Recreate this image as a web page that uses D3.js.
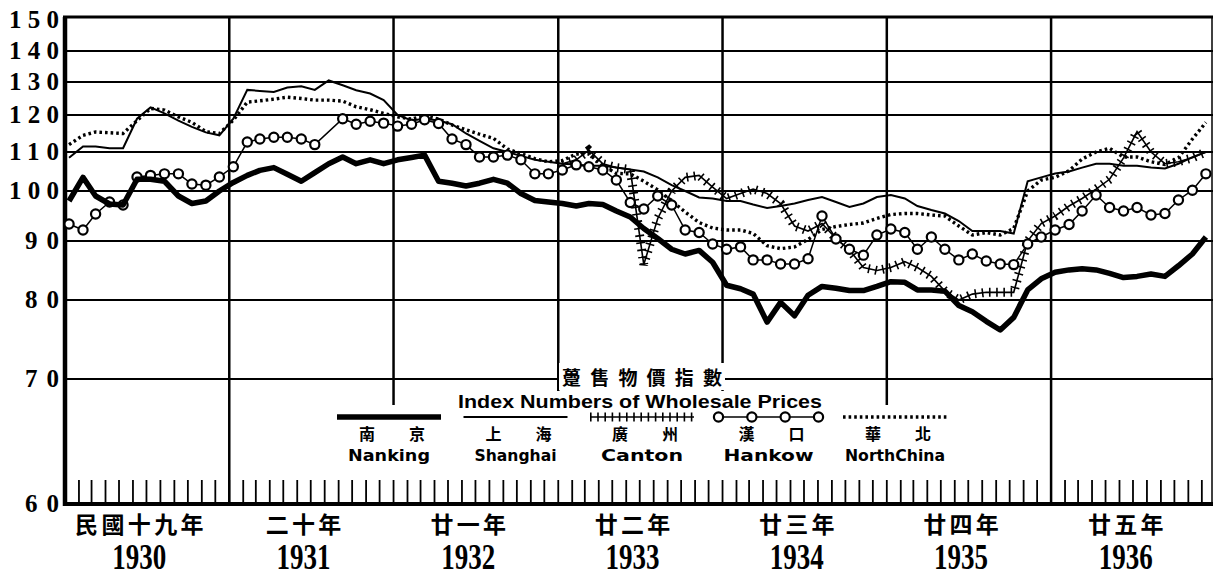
<!DOCTYPE html>
<html>
<head>
<meta charset="utf-8">
<script src="https://cdn.jsdelivr.net/npm/d3@7"></script>
<style>
  html, body { margin: 0; padding: 0; background: #fff; }
  svg { display: block; }
</style>
</head>
<body>
<svg id="chart" width="1213" height="576"></svg>
<script>
// ---- data (monthly, Jan 1930 - Dec 1936) ----
const yearsCn = ["民國十九年", "二十年", "廿一年", "廿二年", "廿三年", "廿四年", "廿五年"];
const years = [1930, 1931, 1932, 1933, 1934, 1935, 1936];
const yTicks = [60, 70, 80, 90, 100, 110, 120, 130, 140, 150];

const nanking = [
  98, 103.5, 99, 97.4, 97.2, 103, 103, 102.5, 99, 97.5, 98, 100,
  102.2, 104, 105.3, 106, 104.3, 102.5, 104.7, 107, 108.7, 107, 108, 107,
  108, 108.6, 109.2, 102.5, 102, 101.3, 102, 103, 102, 99.5, 98.1, 97.8,
  97.5, 97, 97.5, 97.3, 96, 94.8, 92.5, 90.5, 88.6, 87.8, 88.4, 86.4,
  82.5, 81.9, 81, 77.2, 79.7, 78, 80.8, 82.3, 82, 81.6, 81.6, 82.3,
  83.1, 83, 81.7, 81.7, 81.5, 79.3, 78.5, 77.3, 76.2, 77.8, 81.7, 83.6,
  84.7, 85.1, 85.3, 85.1, 84.5, 83.8, 84, 84.4, 84, 85.8, 87.8, 90.8
];
const shanghai = [
  108.5, 111.5, 111.5, 111, 111, 119, 122.3, 120.5, 118.5, 116.8, 115.3, 114.5,
  119, 127.6, 127.3, 127, 128.3, 128.7, 127.6, 130.5, 129, 127.5, 126.5, 124.5,
  120, 118.5, 119, 118.5, 117.5, 115, 113, 111, 110, 109, 108, 107.5,
  107, 106.8, 106.5, 106.5, 106, 105.5, 105, 103.5, 101.5, 100, 98.7, 98.5,
  98, 98, 97.3, 96.6, 97, 97.5, 98.2, 98.8, 97.8, 96.8, 97.5, 98.8,
  99.2, 98.5, 97, 96.2, 95.5, 94, 92, 92, 92, 91.5, 102.5, 103.5,
  104.5, 105, 106, 107, 107, 106.5, 106.5, 106, 105.8, 107, 108.7, 110
];
const canton = [
  null, null, null, null, null, null, null, null, null, null, null, null,
  null, null, null, null, null, null, null, null, null, null, null, null,
  null, null, null, null, null, null, null, null, null, null, null, null,
  107, 108, 110.5, 107, 106, 105.5, 86, 94.5, 100, 103.5, 104, 101,
  98.5, 99.5, 100.5, 99.5, 97.5, 93, 92, 93.5, 90.5, 88.5, 85.5, 85,
  85.5, 86.5, 85.5, 84, 81.5, 80, 81, 81.3, 81.3, 81.3, 90, 93.5,
  95, 97, 98.5, 100.5, 103, 108.5, 115.5, 110, 107, 107.5, 108.5, 110
];
const hankow = [
  93.4, 92.2, 95.4, 97.8, 97.2, 103.6, 104, 104.4, 104.4, 101.8, 101.5, 103.6,
  106.2, 112.7, 113.5, 114, 114, 113.5, 112, null, 119, 117.5, 118.3, 117.8,
  117, 117.5, 118.7, 117.7, 113.5, 112, 108.7, 108.7, 109.2, 108, 104.4, 104.4,
  105.4, 106.7, 106.2, 105.4, 102.8, 97.7, 96.4, 99, 97.2, 92.2, 91.7, 89.5,
  88.6, 89, 86.8, 86.8, 86.1, 86.1, 87, 95, 90.4, 88.6, 87.6, 91.2,
  92.4, 91.7, 88.6, 90.8, 88.6, 86.8, 87.8, 86.6, 86.1, 86, 89.5, 90.8,
  92.2, 93.3, 96, 99.2, 96.7, 96, 96.7, 95.2, 95.5, 98.2, 100.2, 104.4
];
const northChina = [
  112, 114.5, 115.4, 115.2, 115, 118.5, 122, 121.5, 119.5, 118, 115.5, 115,
  118.6, 123.9, 124.3, 124.8, 125.4, 125, 124.5, 124.5, 124.2, 122.5, 121.6, 120.5,
  119.5, 118.9, 119.8, 118.9, 117.3, 116, 114.8, 113.7, 110.8, 109.6, 108.3, 107.5,
  107.8, 109.5, 109.5, 106.5, 104.5, 104.4, 102.5, 100.3, 98, 95.8, 93.7, 92.6,
  92.2, 92.2, 91.5, 89.2, 88.7, 89, 90.3, 92.3, 92.9, 93.3, 93.6, 94.5,
  95.3, 95.5, 95.5, 95.2, 95, 93, 91.2, 91.7, 91.2, 92.5, 100, 102.8,
  103.5, 105.2, 108.2, 110, 111, 108.7, 108.7, 107.5, 106.8, 108.5, 113.5, 118
];

const seriesNames = ["Nanking", "Shanghai", "Canton", "Hankow", "NorthChina"];
const seriesCn = [["南", "京"], ["上", "海"], ["廣", "州"], ["漢", "口"], ["華", "北"]];
const legendTitleCn = "躉售物價指數";
const legendTitleEn = "Index Numbers of Wholesale Prices";

// ---- drawing ----
const svg = d3.select("#chart");
const W = 1213;
const plotTop = 17, plotBottom = 504, plotLeft = 65;
const cjk = '"Noto Sans CJK TC", "Noto Sans CJK SC", sans-serif';

const months = d3.timeMonth.range(new Date(1930, 0, 1), new Date(1937, 0, 1));

const x = d3.scaleTime()
  .domain([new Date(1930, 0, 1), new Date(1937, 0, 1)])
  .range([plotLeft, plotLeft + 84 * 13.7]);

// the printed ruling is not evenly spaced, so follow it piece by piece
const y = d3.scaleLinear()
  .domain(yTicks)
  .range([plotBottom, 379, 300, 241, 191, 152, 115, 82, 51, plotTop]);

function rows(values) {
  return values
    .map((v, i) => ({ date: d3.timeDay.offset(months[i], 9), v: v }))
    .filter(d => d.v != null);
}

const line = d3.line()
  .x(d => x(d.date))
  .y(d => y(d.v));

// horizontal rules
svg.append("g")
  .selectAll("line")
  .data(yTicks.slice(1, -1))
  .join("line")
  .attr("x1", plotLeft).attr("x2", W)
  .attr("y1", d => y(d)).attr("y2", d => y(d))
  .attr("stroke", "#000").attr("stroke-width", 2);

// y labels
svg.append("g")
  .selectAll("text")
  .data(yTicks)
  .join("text")
  .attr("x", 59)
  .attr("y", d => y(d) + (d === 150 ? 11 : 8))
  .attr("text-anchor", "end")
  .attr("font-family", "Liberation Serif, serif")
  .attr("font-weight", "bold")
  .attr("font-size", 25)
  .attr("textLength", d => d >= 100 ? 50 : 34)
  .attr("lengthAdjust", "spacing")
  .text(d => d);

// year rules
const yearStarts = years.slice(1).map(yr => new Date(yr, 0, 1));
svg.append("g")
  .selectAll("line")
  .data(yearStarts)
  .join("line")
  .attr("x1", d => x(d)).attr("x2", d => x(d))
  .attr("y1", plotTop)
  .attr("y2", d => (d.getFullYear() === 1931 || d.getFullYear() === 1936) ? plotBottom : 405)
  .attr("stroke", "#000").attr("stroke-width", 2.5);

// monthly ticks along the base
svg.append("g")
  .selectAll("line")
  .data(months.slice(1))
  .join("line")
  .attr("x1", d => x(d)).attr("x2", d => x(d))
  .attr("y1", plotBottom - 24).attr("y2", plotBottom)
  .attr("stroke", "#000").attr("stroke-width", 1.8);

// frame
svg.append("line").attr("x1", plotLeft - 2).attr("x2", W).attr("y1", plotTop).attr("y2", plotTop)
  .attr("stroke", "#000").attr("stroke-width", 3);
svg.append("line").attr("x1", plotLeft - 2).attr("x2", W).attr("y1", plotBottom).attr("y2", plotBottom)
  .attr("stroke", "#000").attr("stroke-width", 4);
svg.append("line").attr("x1", plotLeft).attr("x2", plotLeft).attr("y1", plotTop).attr("y2", plotBottom + 2)
  .attr("stroke", "#000").attr("stroke-width", 4.5);
svg.append("line").attr("x1", 1212).attr("x2", 1212).attr("y1", plotTop).attr("y2", plotBottom)
  .attr("stroke", "#000").attr("stroke-width", 1.5);

// year labels
const yl = svg.append("g");
yl.selectAll("text.cn")
  .data(years)
  .join("text")
  .attr("class", "cn")
  .attr("x", d => x(new Date(d, 5, 15)))
  .attr("y", 533)
  .attr("text-anchor", "middle")
  .attr("font-family", cjk)
  .attr("font-weight", "bold")
  .attr("font-size", 23)
  .attr("textLength", (d, i) => yearsCn[i].length * 26.5 - 4)
  .attr("lengthAdjust", "spacing")
  .text((d, i) => yearsCn[i]);
yl.selectAll("text.yr")
  .data(years)
  .join("text")
  .attr("class", "yr")
  .attr("x", d => x(new Date(d, 5, 15)))
  .attr("y", 569)
  .attr("text-anchor", "middle")
  .attr("font-family", "Liberation Serif, serif")
  .attr("font-weight", "bold")
  .attr("font-size", 35)
  .attr("textLength", 54)
  .attr("lengthAdjust", "spacingAndGlyphs")
  .text(d => d);

// legend titles, with the rules knocked out behind them
const tCn = svg.append("text")
  .attr("x", 642).attr("y", 385)
  .attr("text-anchor", "middle")
  .attr("font-family", cjk).attr("font-weight", "bold").attr("font-size", 19)
  .attr("textLength", 160).attr("lengthAdjust", "spacing")
  .text(legendTitleCn);
const tEn = svg.append("text")
  .attr("x", 640).attr("y", 408)
  .attr("text-anchor", "middle")
  .attr("font-family", "Liberation Sans, sans-serif").attr("font-weight", "bold").attr("font-size", 19)
  .attr("textLength", 364).attr("lengthAdjust", "spacingAndGlyphs")
  .text(legendTitleEn);
[tCn, tEn].forEach(t => {
  const b = t.node().getBBox();
  svg.insert("rect", () => t.node())
    .attr("x", b.x - 3).attr("y", b.y)
    .attr("width", b.width + 6).attr("height", b.height)
    .attr("fill", "#fff");
});

// ---- series ----
const g = svg.append("g").attr("fill", "none").attr("stroke", "#000");

function drawSeries(sel, data, name) {
  if (name === "Nanking") {
    sel.append("path").datum(data).attr("d", line)
      .attr("stroke-width", 5.5).attr("stroke-linejoin", "round");
  } else if (name === "Shanghai") {
    sel.append("path").datum(data).attr("d", line)
      .attr("stroke-width", 2);
  } else if (name === "Canton") {
    sel.append("path").datum(data).attr("d", line)
      .attr("stroke-width", 1.6);
    sel.append("path").datum(data).attr("d", line)
      .attr("stroke-width", 9).attr("stroke-dasharray", "1.6,5.6");
  } else if (name === "Hankow") {
    sel.append("path").datum(data).attr("d", line)
      .attr("stroke-width", 1.5);
    sel.selectAll("circle").data(data).join("circle")
      .attr("cx", d => x(d.date)).attr("cy", d => y(d.v))
      .attr("r", 4.6).attr("fill", "#fff").attr("stroke-width", 2.2);
  } else {
    sel.append("path").datum(data).attr("d", line)
      .attr("stroke-width", 3.4).attr("stroke-dasharray", "2.6,3");
  }
}

const allSeries = [nanking, shanghai, canton, hankow, northChina];
[4, 1, 2, 3, 0].forEach(i => {
  drawSeries(g.append("g"), rows(allSeries[i]), seriesNames[i]);
});

// ---- legend ----
const legX = d3.scalePoint().domain(seriesNames).range([389, 895]);
const legendLine = d3.line();
const lg = svg.append("g");
seriesNames.forEach((name, i) => {
  const c = legX(name);
  const pts = [[c - 52, 417], [c + 52, 417]];
  const sg = lg.append("g").attr("fill", "none").attr("stroke", "#000");
  if (name === "Nanking") {
    sg.append("path").attr("d", legendLine(pts)).attr("stroke-width", 5.5);
  } else if (name === "Shanghai") {
    sg.append("path").attr("d", legendLine(pts)).attr("stroke-width", 2);
  } else if (name === "Canton") {
    sg.append("path").attr("d", legendLine(pts)).attr("stroke-width", 1.6);
    sg.append("path").attr("d", legendLine(pts)).attr("stroke-width", 9).attr("stroke-dasharray", "1.6,5.6");
  } else if (name === "Hankow") {
    sg.append("path").attr("d", legendLine(pts)).attr("stroke-width", 1.5);
    sg.selectAll("circle").data(d3.range(4)).join("circle")
      .attr("cx", k => c - 50 + k * 100 / 3).attr("cy", 417)
      .attr("r", 4.6).attr("fill", "#fff").attr("stroke-width", 2.2);
  } else {
    sg.append("path").attr("d", legendLine(pts)).attr("stroke-width", 3.4).attr("stroke-dasharray", "2.6,3");
  }
  lg.selectAll(null).data(seriesCn[i]).join("text")
    .attr("x", (d, k) => c + (k === 0 ? -22 : 28))
    .attr("y", 440)
    .attr("text-anchor", "middle")
    .attr("font-family", cjk).attr("font-weight", "bold").attr("font-size", 16)
    .text(d => d);
  lg.append("text")
    .attr("x", c).attr("y", 461)
    .attr("text-anchor", "middle")
    .attr("font-family", "DejaVu Sans, sans-serif").attr("font-weight", "bold").attr("font-size", 16)
    .attr("textLength", name === "NorthChina" ? 100 : (name === "Hankow" ? 90 : 82))
    .attr("lengthAdjust", "spacingAndGlyphs")
    .text(name);
});
</script>
</body>
</html>
